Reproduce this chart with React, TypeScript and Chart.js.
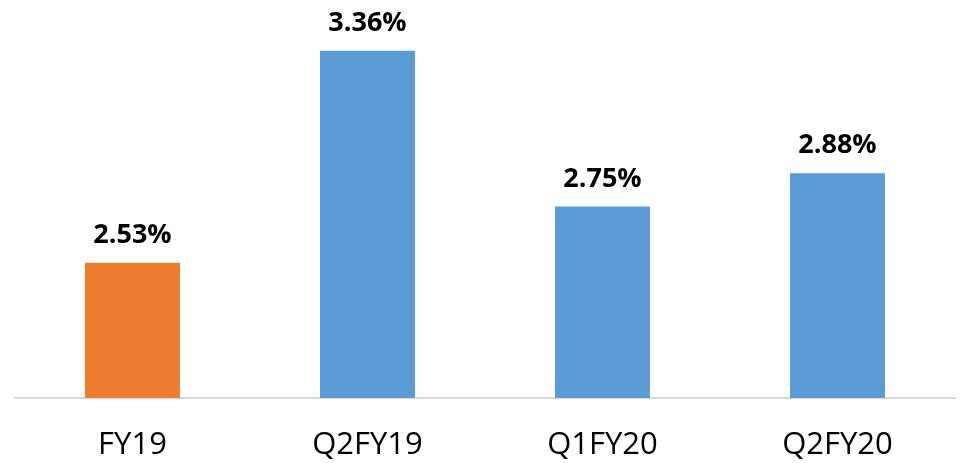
import React, { useEffect, useRef } from "react";
import { Chart, registerables } from "chart.js";

Chart.register(...registerables);

const categories = ["FY19", "Q2FY19", "Q1FY20", "Q2FY20"];
const values = [2.53, 3.36, 2.75, 2.88];
const barColors = ["#ED7D31", "#5B9BD5", "#5B9BD5", "#5B9BD5"];
const valueLabels = ["2.53%", "3.36%", "2.75%", "2.88%"];

const FONT = "'Open Sans', 'Liberation Sans', sans-serif";

const labelPlugin = {
  id: "valueLabels",
  afterDatasetsDraw(chart: any) {
    const ctx = chart.ctx;
    const meta = chart.getDatasetMeta(0);
    ctx.save();
    ctx.font = `bold 27px ${FONT}`;
    ctx.fillStyle = "#000000";
    ctx.textAlign = "center";
    ctx.textBaseline = "alphabetic";
    meta.data.forEach((bar: any, i: number) => {
      ctx.fillText(valueLabels[i], bar.x, bar.y - 20);
    });
    ctx.restore();
  },
};

export default function App() {
  const ref = useRef<HTMLCanvasElement | null>(null);
  useEffect(() => {
    document.body.style.margin = "0";
    const canvas = ref.current;
    if (!canvas) return;
    const chart = new Chart(canvas, {
      type: "bar",
      data: {
        labels: categories,
        datasets: [
          {
            data: values,
            backgroundColor: barColors,
            borderWidth: 0,
            categoryPercentage: 1,
            barPercentage: 0.404,
          },
        ],
      },
      options: {
        animation: false,
        responsive: false,
        maintainAspectRatio: false,
        layout: { padding: { left: 15, right: 9, top: 15, bottom: 0 } },
        plugins: {
          legend: { display: false },
          tooltip: { enabled: false },
        },
        scales: {
          x: {
            grid: { display: false, drawTicks: false },
            border: { display: true, color: "#D9D9D9", width: 2 },
            ticks: {
              color: "#000000",
              font: { family: FONT, size: 31 },
              padding: 29,
            },
            afterFit: (s: any) => {
              s.height = 65;
            },
          },
          y: {
            display: false,
            min: 2,
            max: 3.5,
          },
        },
      },
      plugins: [labelPlugin],
    });
    return () => chart.destroy();
  }, []);
  return (
    <div style={{ width: 964, height: 463 }}>
      <canvas ref={ref} width={964} height={463} style={{ display: "block" }} />
    </div>
  );
}
